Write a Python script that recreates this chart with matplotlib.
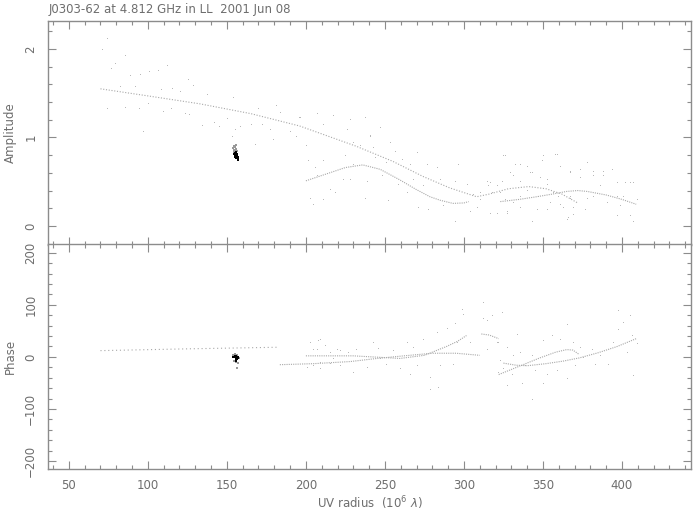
import matplotlib
matplotlib.use('Agg')
import matplotlib.pyplot as plt
from matplotlib.ticker import MultipleLocator

# --- data ---
title = 'J0303-62 at 4.812 GHz in LL  2001 Jun 08'

# model curves (amplitude)
amp_m1_uv = [70, 100, 133, 165, 196, 232, 255, 274, 291, 308, 316, 328, 341, 352, 362, 372]
amp_m1 = [1.55, 1.47, 1.38, 1.27, 1.13, 0.90, 0.73, 0.56, 0.43, 0.33, 0.36, 0.42, 0.445, 0.42, 0.36, 0.26]
amp_m2_uv = [200, 215, 225, 236, 247, 259.5, 270, 278.5, 285, 293, 300, 303]
amp_m2 = [0.51, 0.60, 0.66, 0.69, 0.64, 0.52, 0.41, 0.33, 0.29, 0.255, 0.26, 0.275]
amp_m3_uv = [323, 335, 346, 356, 365, 372, 378, 390, 400, 409]
amp_m3 = [0.275, 0.30, 0.33, 0.36, 0.39, 0.40, 0.39, 0.35, 0.30, 0.245]

# model curves (phase)
ph_m1_uv = [70, 126, 182]
ph_m1 = [12, 15.5, 18.5]
ph_m2_uv = [183.5, 205, 228, 245, 262, 280, 295, 310]
ph_m2 = [-15, -13, -9, -3, 2, 7, 7, 3]
ph_m3_uv = [200, 230, 259.5, 275, 289, 296, 301.6]
ph_m3 = [2, 2, -3, 3, 20, 30, 41]
ph_m4_uv = [311, 316, 322]
ph_m4 = [44, 42, 35]
ph_m5_uv = [322, 335, 348, 358, 365, 369, 373]
ph_m5 = [-34, -18, -2, 9, 14, 13, 4.5]
ph_m6_uv = [325, 333, 340, 352, 363, 373, 385, 397, 409]
ph_m6 = [-12, -16, -17, -13, -8, -2, 8, 20, 35]

# scattered visibilities (amplitude)
amp_uv = [70.7, 73.9, 76.4, 79.0, 85.7, 88.6, 95.0, 100.8, 106.5, 112.2, 125.5, 128.7,
          82.3, 91.8, 108.6, 115.0, 120.3, 137.2, 154.0, 73.9, 85.4, 94.5, 100.2, 109.3,
          114.6, 123.4, 126.0, 134.0, 97.0, 141.8, 145.1, 149.8, 155.0, 153.0, 158.2, 167.7,
          165.0, 169.8, 172.0, 177.2, 181.0, 183.5, 189.9, 179.3, 194.0, 195.8,
          227.8, 237.3, 246.8, 240.5, 229.9, 234.2, 242.6, 253.1, 256.3, 270.0, 224.7, 229.9,
          243.7, 251.0, 260.5, 265.8, 276.4, 282.7, 296.4, 227.8, 238.4, 247.9, 258.4, 267.9,
          274.2, 284.8, 294.3, 301.7, 237.3, 252.1, 263.7, 271.1, 277.4, 286.9, 294.3, 303.8,
          310.1, 314.3, 320.7, 324.9, 329.1, 332.3, 335.4, 339.6, 342.8, 348.1, 352.3, 357.6,
          320.7, 327.0, 331.2, 342.8, 352.3, 360.7, 365.0, 369.2, 367.1, 373.4, 377.6, 381.8,
          388.2, 393.4, 386.1, 396.6, 401.9, 407.2, 398.7, 405.0, 407.2, 409.3, 376.6, 390.3,
          381.8, 356.5, 339.6, 347.0, 335.4, 325.9, 317.5, 360.7, 367.1, 350.2,
          202.5, 204.6, 211.0, 206.8, 215.2, 218.4, 211.0, 201.5, 200.0, 205.7, 223.6, 196.0,
          206.8, 217.3, 227.8, 237.3, 211.0, 225.7, 240.5,
          326.0, 358.7, 335.4, 349.2, 316.5, 331.2, 341.8, 352.3, 367.1, 373.4, 381.9, 388.2,
          396.6, 405.0, 308.0, 316.5, 327.0, 335.4, 342.8, 362.9, 366.0, 369.2, 396.6, 407.2,
          390.3, 354.4, 346.0, 310.1, 305.9, 322.8, 359.7, 367.0, 377.6, 400.8, 315.4, 323.8]
amp_val = [1.99, 2.11, 1.77, 1.83, 1.92, 1.70, 1.71, 1.74, 1.75, 1.81, 1.65, 1.58,
           1.57, 1.57, 1.54, 1.55, 1.51, 1.48, 1.45, 1.32, 1.33, 1.32, 1.38, 1.29,
           1.32, 1.26, 1.25, 1.13, 1.06, 1.16, 1.12, 1.21, 1.09, 1.00, 1.12, 0.92,
           1.14, 1.32, 1.14, 1.09, 1.36, 1.28, 1.06, 0.97, 1.01, 1.22,
           1.20, 1.22, 1.11, 1.01, 0.94, 0.90, 0.88, 0.94, 0.84, 0.82, 0.79, 0.69,
           0.77, 0.71, 0.75, 0.69, 0.69, 0.65, 0.69, 0.52, 0.50, 0.56, 0.46, 0.52,
           0.45, 0.52, 0.50, 0.46, 0.31, 0.28, 0.37, 0.20, 0.18, 0.22, 0.05, 0.16,
           0.29, 0.50, 0.45, 0.79, 0.60, 0.69, 0.50, 0.67, 0.60, 0.54, 0.46, 0.80,
           0.14, 0.14, 0.26, 0.05, 0.18, 0.24, 0.07, 0.20, 0.33, 0.63, 0.71, 0.56,
           0.61, 0.63, 0.45, 0.33, 0.48, 0.48, 0.22, 0.11, 0.05, 0.29, 0.18, 0.26,
           0.33, 0.37, 0.39, 0.33, 0.33, 0.29, 0.37, 0.67, 0.60, 0.79,
           0.31, 0.24, 0.29, 0.56, 0.41, 0.37, 0.73, 0.73, 0.90, 0.65, 0.52, 1.22,
           1.26, 1.24, 1.20, 1.22, 1.14, 1.09, 1.02,
           0.79, 0.80, 0.69, 0.73, 0.48, 0.56, 0.60, 0.52, 0.61, 0.54, 0.61, 0.56,
           0.48, 0.48, 0.20, 0.14, 0.16, 0.20, 0.05, 0.20, 0.09, 0.12, 0.11, 0.05,
           0.26, 0.26, 0.18, 0.37, 0.35, 0.37, 0.33, 0.30, 0.31, 0.33, 0.45, 0.50]

# scattered visibilities (phase)
ph_uv = [202.5, 207.8, 212.0, 204.6, 219.4, 226.8, 232.0, 242.6, 245.8, 255.3, 263.7, 267.9,
         274.3, 282.7, 289.0, 294.3, 298.9, 312.2, 299.6, 303.8, 295.4, 200.4, 208.9, 221.5,
         230.0, 238.4, 251.0, 259.5, 265.8, 278.5, 284.8, 293.2, 283.8, 278.5, 270.0, 246.8,
         217.3, 314.3, 317.5, 320.7, 321.7,
         312.2, 317.5, 323.8, 314.3, 321.7, 327.0, 333.3, 335.4, 331.2, 324.9, 327.0, 336.5,
         342.8, 344.9, 350.2, 355.5, 360.7, 365.0, 369.2, 373.4, 370.2, 365.0, 358.6, 352.3,
         350.2, 380.8, 382.9, 391.3, 394.5, 397.7, 400.8, 402.9, 406.1, 407.2, 405.0, 397.7,
         409.3, 386.0, 375.5, 342.8, 338.6, 330.1, 322.8,
         202.5, 208.9, 206.8, 215.2, 221.5, 208.9, 215.2, 204.6]
ph_val = [27, 30, 20.5, 14, 14, 7.6, 14, 27, 15, 10.8, 27, 17,
          32, 46, 54, 64, 90, 104, 81, 27, 27, -21, -24, -18,
          -31, -21, -14.8, -24, -34, -40, -18, -14.8, -59, -63, -18, -5,
          -5, 68.5, 78, 27, -31,
          72, 78, 84.6, 14, 27, 17, 43, 8, 1.2, -24, -56, -53,
          -82, -27, 30, 40, 33, 62, 27, 17, -18, -43, -27.6, -34,
          -53, 14, -14.8, -14.8, 27, 52, 65, 8, 40, -37, 78, 88,
          24, 1.2, -2, 1.2, -18, -34, -8.4,
          27, 33, 14, 7.7, 10.8, -11.5, -13, -18]

# the dense group near 155 M-lambda
cl_gray_uv = [154.0, 154.6, 155.3, 155.8, 154.3, 155.0, 156.0, 154.7, 155.5, 156.3, 154.2]
cl_gray_amp = [0.88, 0.90, 0.89, 0.91, 0.86, 0.85, 0.87, 0.84, 0.83, 0.85, 0.82]
cl_blk_uv = [154.8, 155.2, 155.6, 156.0, 156.4, 155.9, 156.5, 156.8, 157.1, 156.2, 155.4,
             157.0, 154.9, 155.7, 156.6]
cl_blk_amp = [0.81, 0.80, 0.82, 0.79, 0.81, 0.77, 0.78, 0.76, 0.75, 0.80, 0.78,
              0.78, 0.83, 0.84, 0.80]
clp_gray_uv = [154.0, 155.0, 156.5, 157.5, 154.5, 156.0, 157.0, 156.5]
clp_gray_ph = [3, 5, 4, -2, -8, -10, -12, -22]
clp_blk_uv = [153.8, 154.5, 155.2, 156.0, 156.8, 155.5, 156.2, 155.0, 156.0, 157.2, 155.8]
clp_blk_ph = [-1, -1, -1, -2, -1, -4, -5, 2, 1, -3, -7]

AXC = '#8c8c8c'
TXC = '#6e6e6e'
DOTC = '#b8b8b8'
MODC = '#a8a8a8'

fig = plt.figure(figsize=(6.93, 5.11), dpi=100)
ax1 = fig.add_axes([0.0697, 0.5215, 0.927, 0.438])
ax2 = fig.add_axes([0.0697, 0.0816, 0.927, 0.440])

for ax in (ax1, ax2):
    ax.set_xlim(37, 443.5)
    ax.xaxis.set_major_locator(MultipleLocator(50))
    ax.xaxis.set_minor_locator(MultipleLocator(10))
    ax.tick_params(which='both', direction='in', top=True, right=True,
                   color=AXC, labelcolor=TXC, labelsize=8.5, width=0.8)
    ax.tick_params(which='major', length=6)
    ax.tick_params(which='minor', length=3)
    for sp in ax.spines.values():
        sp.set_color(AXC)
        sp.set_linewidth(1.0)
    ax.tick_params(axis='y', labelrotation=90, pad=8)

# amplitude panel
ax1.set_ylim(-0.21, 2.32)
ax1.yaxis.set_major_locator(MultipleLocator(1))
ax1.yaxis.set_minor_locator(MultipleLocator(0.2))
ax1.tick_params(axis='x', labelbottom=False)
ax1.plot(amp_uv, amp_val, ',', color=DOTC)
ax1.plot(amp_m1_uv, amp_m1, color=MODC, lw=0.8, ls=(0, (1, 1.5)))
ax1.plot(amp_m2_uv, amp_m2, color=MODC, lw=0.8, ls=(0, (1, 1)))
ax1.plot(amp_m3_uv, amp_m3, color=MODC, lw=0.8, ls=(0, (1, 1)))
ax1.scatter(cl_gray_uv, cl_gray_amp, s=2.5, marker='s', color='#999999', linewidths=0)
ax1.scatter(cl_blk_uv, cl_blk_amp, s=3, marker='s', color='black', linewidths=0)
ax1.set_ylabel('Amplitude', color=TXC, fontsize=8.5, labelpad=5)
for lab in ax1.get_yticklabels():
    lab.set_va('center')

# phase panel
ax2.set_ylim(-216, 216)
ax2.yaxis.set_major_locator(MultipleLocator(100))
ax2.yaxis.set_minor_locator(MultipleLocator(20))
ax2.tick_params(axis='x', pad=7)
ax2.plot(ph_uv, ph_val, ',', color=DOTC)
ax2.plot(ph_m1_uv, ph_m1, color=MODC, lw=0.8, ls=(0, (1, 2.5)))
for u, p in [(ph_m2_uv, ph_m2), (ph_m3_uv, ph_m3), (ph_m4_uv, ph_m4),
             (ph_m5_uv, ph_m5), (ph_m6_uv, ph_m6)]:
    ax2.plot(u, p, color=MODC, lw=0.8, ls=(0, (1, 1)))
ax2.scatter(clp_gray_uv, clp_gray_ph, s=2.5, marker='s', color='#999999', linewidths=0)
ax2.scatter(clp_blk_uv, clp_blk_ph, s=3, marker='s', color='black', linewidths=0)
ax2.set_ylabel('Phase', color=TXC, fontsize=8.5, labelpad=5)
ax2.set_xlabel('UV radius  (10$^6$ $\\lambda$)', color=TXC, fontsize=8.5, labelpad=2)
for lab in ax2.get_yticklabels():
    lab.set_va('center')

fig.text(0.0697, 1 - 12.5 / 511, title, color=TXC, fontsize=8.5, va='baseline', ha='left')

fig.savefig('out.png', dpi=100)
